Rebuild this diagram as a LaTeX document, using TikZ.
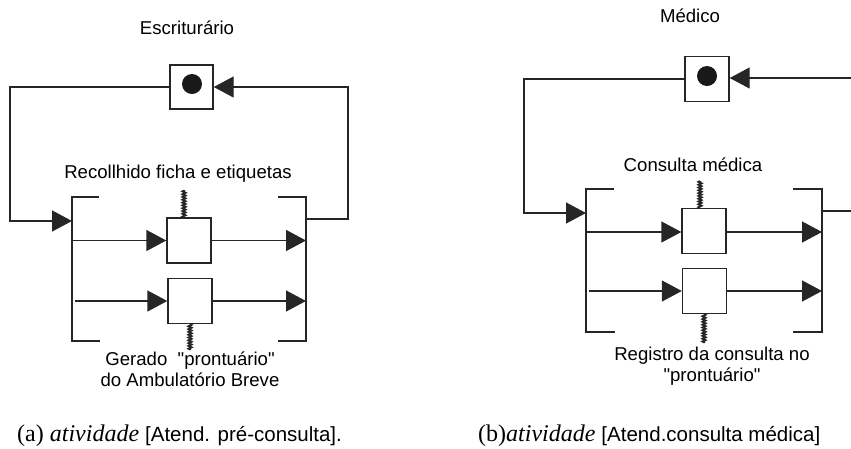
\documentclass[tikz,border=0pt]{standalone}
\usepackage{fontspec}
\setmainfont{Liberation Serif}
\setsansfont{Liberation Sans}[Ligatures=TeXOff]
\usetikzlibrary{arrows.meta,decorations.pathmorphing}

\tikzset{
  ln/.style={line width=1.4pt, draw=black!85},
  act/.style={ln, draw, minimum width=44pt, minimum height=45pt, inner sep=0pt},
  tok/.style={circle, fill=black!90, minimum size=20pt, inner sep=0pt},
  flow/.style={ln, -{Triangle[length=20pt,width=21pt]}},
  ctrl/.style={line width=2pt, draw=black!85, decorate,
    decoration={zigzag, segment length=2.8pt, amplitude=1.4pt}},
  lbl/.style={font=\sffamily\fontsize{18.6}{21}\selectfont, align=center, inner sep=0pt},
  captext/.style={anchor=base west, inner sep=0pt, font=\fontsize{24}{28}\selectfont},
}
\newcommand{\capsans}{\sffamily\fontsize{20.5}{24}\selectfont}

\begin{document}
\begin{tikzpicture}[x=1pt, y=-1pt]
\useasboundingbox (0,0) rectangle (851,448);

% ---------------- (a) Atend. pre-consulta ----------------
\node[lbl] (aRole) at (187,28) {Escriturário};
\node[act, minimum width=43pt, minimum height=44pt] (a0) at (191.5,87) {};
\node[tok] (a0t) at (192,84) {};

% bracket of the composite activity
\coordinate (aLT) at (72,197);
\coordinate (aLB) at (72,341);
\coordinate (aRT) at (306,197);
\coordinate (aRB) at (306,341);
\draw[ln] (99,197) -- (aLT) -- (aLB) -- (100,341);
\draw[ln] (278,197) -- (aRT) -- (aRB) -- (278,341);

% loop from the role box back into the composite
\coordinate (aInL) at (72,221);
\coordinate (aOutR) at (306,219);
\draw[flow] (a0.west) -- (10,87) -- (10,221) -- (aInL);
\draw[flow] (aOutR) -- (348,219) -- (348,87) -- (a0.east);

% inner activities
\node[act] (a1) at (189,240.5) {};
\node[act] (a2) at (190,301) {};
\coordinate (a1in) at (72,240.5);
\coordinate (a1out) at (306,240.5);
\coordinate (a2in) at (75,301);
\coordinate (a2out) at (306,301);
\draw[flow] (a1in) -- (a1.west);
\draw[flow] (a1.east) -- (a1out);
\draw[flow] (a2in) -- (a2.west);
\draw[flow] (a2.east) -- (a2out);

\coordinate (a1c) at (184,190);
\coordinate (a2c) at (190,350);
\draw[ctrl] (a1.north -| a1c) -- (a1c);
\draw[ctrl] (a2.south -| a2c) -- (a2c);

\node[lbl] (a1l) at (178,174) {Recollhido ficha e etiquetas};
\node[lbl, anchor=north] (a2l) at (190,352) {Gerado \ "prontuário"\\do Ambulatório Breve};

\node[captext] (aCap) at (17,441) {(a) \textit{atividade} {\capsans[Atend. pré-consulta].}};

% ---------------- (b) Atend. consulta medica ----------------
\node[lbl] (bRole) at (690,16) {Médico};
\node[act] (b0) at (707,79) {};
\node[tok] (b0t) at (707,76) {};

\coordinate (bLT) at (586,189);
\coordinate (bLB) at (586,332);
\coordinate (bRT) at (822,189);
\coordinate (bRB) at (822,332);
\draw[ln] (614,189) -- (bLT) -- (bLB) -- (615,332);
\draw[ln] (793,189) -- (bRT) -- (bRB) -- (793,332);

\coordinate (bInL) at (586,213);
\coordinate (bOutR) at (822,211);
\coordinate (bEdgeLow) at (851,211);
\coordinate (bEdgeTop) at (851,78);
\draw[flow] (b0.west) -- (524,79) -- (524,213) -- (bInL);
\draw[ln] (bOutR) -- (bEdgeLow);
\draw[flow] (bEdgeTop) -- (b0.east |- bEdgeTop);

\node[act] (b1) at (704,231) {};
\node[act] (b2) at (704.5,291) {};
\coordinate (b1in) at (586,232);
\coordinate (b1out) at (822,232);
\coordinate (b2in) at (589,291);
\coordinate (b2out) at (822,291);
\draw[flow] (b1in) -- (b1.west |- b1in);
\draw[flow] (b1.east |- b1out) -- (b1out);
\draw[flow] (b2in) -- (b2.west);
\draw[flow] (b2.east) -- (b2out);

\coordinate (b1c) at (700,181);
\coordinate (b2c) at (704,343);
\draw[ctrl] (b1.north -| b1c) -- (b1c);
\draw[ctrl] (b2.south -| b2c) -- (b2c);

\node[lbl] (b1l) at (693,165) {Consulta médica};
\node[lbl, anchor=north] (b2l) at (712,347) {Registro da consulta no\\"prontuário"};

\node[captext] (bCap) at (478,441) {(b)\textit{atividade} {\capsans[Atend.consulta médica]}};
\end{tikzpicture}
\end{document}
